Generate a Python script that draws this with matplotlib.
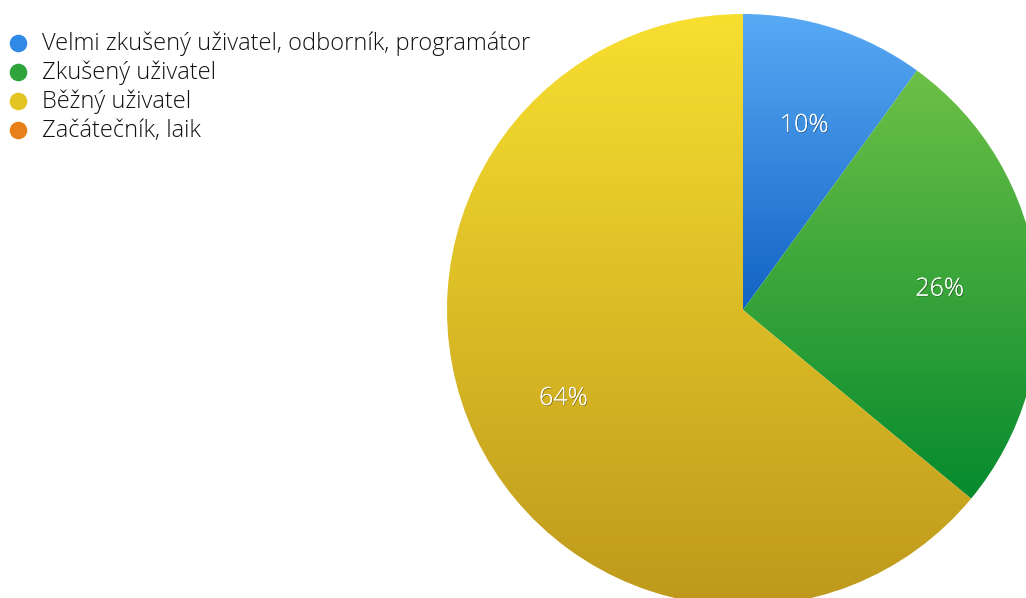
import numpy as np
import matplotlib
matplotlib.use("Agg")
import matplotlib.pyplot as plt
import matplotlib.patheffects as pe
from matplotlib.colors import LinearSegmentedColormap

categories = ["Velmi zkušený uživatel, odborník, programátor",
              "Zkušený uživatel",
              "Běžný uživatel",
              "Začátečník, laik"]
shares = [10, 26, 64, 0]

# top / bottom shade of each slice, plus the flat legend dot colour
top_colors = ["#58aaf5", "#6dc046", "#f8df30", "#f29a30"]
bottom_colors = ["#1263c4", "#068a2e", "#be991c", "#d86a10"]
dot_colors = ["#2f8ae6", "#2ea43a", "#e2c423", "#e8801a"]

FONT = "Open Sans"

W, H = 1026, 598
fig = plt.figure(figsize=(W / 100, H / 100), dpi=100)
ax = fig.add_axes([0, 0, 1, 1])

cx, cy, r = 743, H - 310, 296
wedges, texts = ax.pie(shares, startangle=90, counterclock=False,
                       center=(cx, cy), radius=r,
                       wedgeprops=dict(linewidth=0))

for w, c0, c1 in zip(wedges, top_colors, bottom_colors):
    if w.theta2 - w.theta1 <= 0:
        w.set_visible(False)
        continue
    w.set_facecolor("none")
    ext = w.get_path().get_extents(w.get_transform())
    # bbox in display coords -> back to data coords
    inv = ax.transData.inverted()
    (x0, y0), (x1, y1) = inv.transform([[ext.x0, ext.y0], [ext.x1, ext.y1]])
    cmap = LinearSegmentedColormap.from_list("g", [c1, c0])
    grad = np.linspace(0, 1, 256).reshape(-1, 1)
    im = ax.imshow(grad, cmap=cmap, origin="lower", aspect="auto",
                   extent=(x0, x1, y0, y1), interpolation="bilinear", zorder=1)
    im.set_clip_path(w)

# percentage labels
shadow = [pe.withSimplePatchShadow(offset=(0.6, -0.6), shadow_rgbFace="black", alpha=0.35),
          pe.Normal()]
start = 90.0
for v in shares:
    ang = start - 360 * v / 100 / 2
    start -= 360 * v / 100
    if v == 0:
        continue
    rad = np.deg2rad(ang)
    d = 0.67 * r
    ax.text(cx + d * np.cos(rad), cy + d * np.sin(rad) - 4, f"{v}%",
            color="white", fontsize=18, family=FONT, fontweight="light",
            ha="center", va="center", zorder=3, path_effects=shadow)

# legend
for i, (name, col) in enumerate(zip(categories, dot_colors)):
    y = H - (43 + 29 * i)
    ax.scatter([18], [y], s=160, color=col, zorder=3, linewidths=0)
    ax.text(42, y - 1, name, fontsize=17, family=FONT, fontweight="light",
            color="#111111", va="center", ha="left")

ax.set_xlim(0, W)
ax.set_ylim(0, H)
ax.set_aspect("auto")
ax.axis("off")

fig.savefig("out.png", dpi=100)
